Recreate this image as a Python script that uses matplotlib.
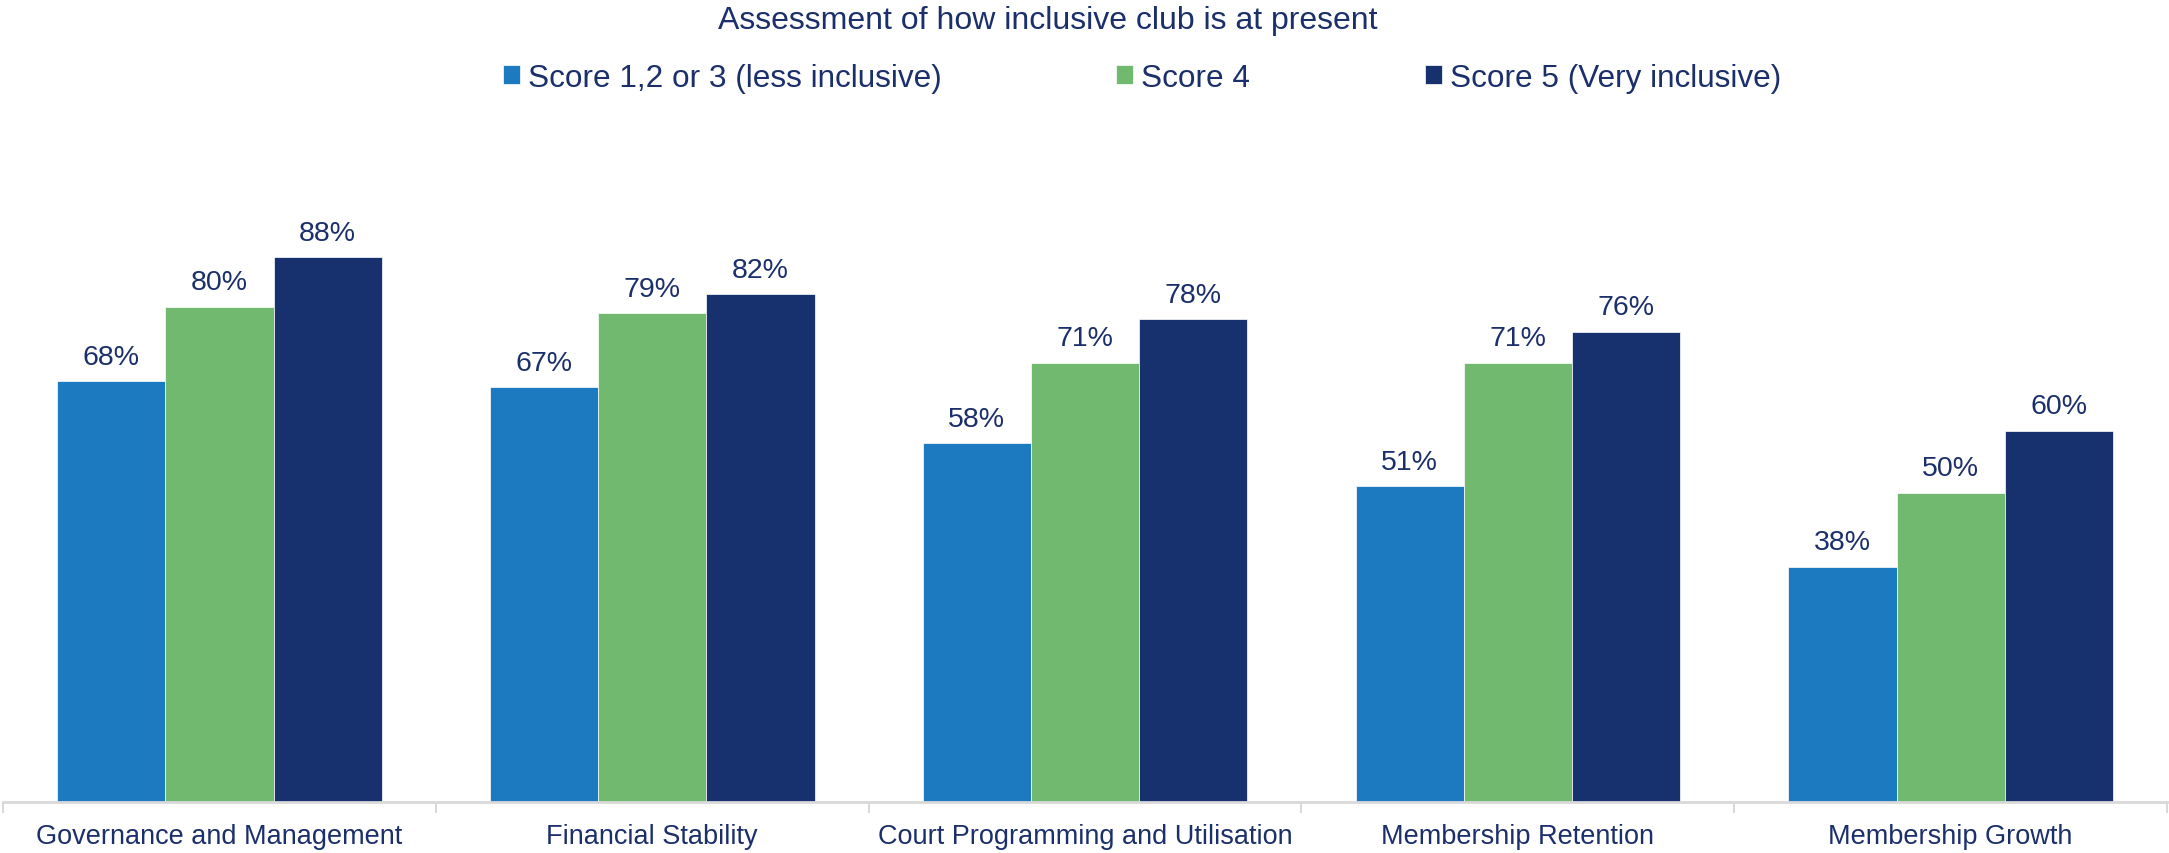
import numpy as np
import matplotlib.pyplot as plt

# survey results: share of clubs reporting progress, by self-rated inclusiveness
categories = ['Governance and Management', 'Financial Stability',
              'Court Programming and Utilisation', 'Membership Retention',
              'Membership Growth']
series_names = ['Score 1,2 or 3 (less inclusive)', 'Score 4',
                'Score 5 (Very inclusive)']
score_123 = [0.68, 0.67, 0.58, 0.51, 0.38]
score_4 = [0.80, 0.79, 0.71, 0.71, 0.50]
score_5 = [0.88, 0.82, 0.78, 0.76, 0.60]

colors = ['#1C7BC0', '#70B96F', '#17316F']
text_color = '#1B2F6B'

plt.rcParams['font.family'] = ['Liberation Sans', 'DejaVu Sans']

fig = plt.figure(figsize=(21.69, 8.54), dpi=100)
ax = fig.add_axes([3 / 2169, 51 / 854, 2164 / 2169, 619 / 854])

x = np.arange(len(categories))
width = 0.25
handles = []
for k, (vals, name) in enumerate(zip([score_123, score_4, score_5], series_names)):
    bars = ax.bar(x + (k - 1) * width, vals, width, color=colors[k],
                  edgecolor='white', linewidth=0.5, label=name)
    handles.append(bars)
    for xi, v in zip(x + (k - 1) * width, vals):
        ax.annotate(f'{v:.0%}', (xi, v), xytext=(0, 12.5), textcoords='offset points',
                    ha='center', va='baseline', fontsize=20.5, color=text_color)

ax.set_xlim(-0.5, len(categories) - 0.5)
ax.set_ylim(0, 1)

# category labels centred, tick marks on the group boundaries
ax.set_xticks(x)
ax.set_xticklabels(categories, fontsize=19.5, color=text_color)
ax.tick_params(axis='x', which='major', length=0, pad=15)
ax.set_xticks(np.arange(len(categories) + 1) - 0.5, minor=True)
ax.tick_params(axis='x', which='minor', length=8, width=1.5, color='#D9D9D9')
ax.set_yticks([])

for side in ['top', 'right', 'left']:
    ax.spines[side].set_visible(False)
ax.spines['bottom'].set_color('#D9D9D9')
ax.spines['bottom'].set_linewidth(2)

fig.text(1048 / 2169, 1 - 21 / 854, 'Assessment of how inclusive club is at present',
         ha='center', va='center', fontsize=23, color=text_color)

fig.legend(handles=handles, labels=series_names, ncol=3, loc='center',
           bbox_to_anchor=(1142 / 2169, 1 - 79 / 854), frameon=False,
           fontsize=22.7, labelcolor=text_color, handlelength=0.54,
           handleheight=0.54, handletextpad=0.25, columnspacing=5.55,
           borderpad=0)

fig.savefig('out.png', dpi=100)
